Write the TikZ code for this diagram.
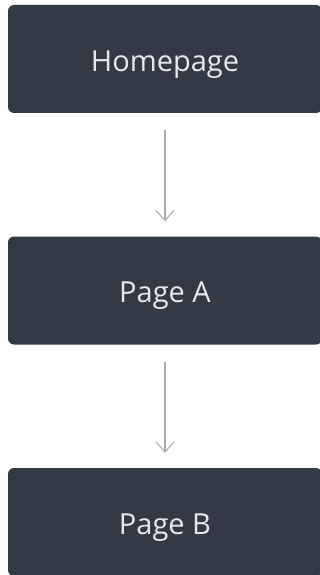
\documentclass[tikz,border=0pt]{standalone}
\usepackage{fontspec}
\setmainfont{Open Sans}
\usetikzlibrary{arrows.meta}
\definecolor{boxfill}{HTML}{343946}
\definecolor{boxtext}{HTML}{E8E8EA}
\definecolor{arrowgray}{HTML}{ABABAB}
\begin{document}
\begin{tikzpicture}[x=1pt,y=1pt,
  pagebox/.style={rectangle, rounded corners=6pt, fill=boxfill, draw=none,
    minimum width=314pt, minimum height=108pt, inner sep=0pt,
    text height=24.5pt, text depth=0pt,
    text=boxtext, font=\fontsize{29}{34}\selectfont},
  flow/.style={draw=arrowgray, line width=1.1pt,
    -{Straight Barb[length=10pt,width=18pt,line width=1.1pt]},
    shorten <=17pt, shorten >=15pt}]
\useasboundingbox (0,0) rectangle (320,-575);
\node[pagebox] (home) at (165,-59) {Homepage};
\node[pagebox] (pa) at (165,-290.5) {Page A};
\node[pagebox] (pb) at (165,-522) {Page B};
\draw[flow] (home) -- (pa);
\draw[flow] (pa) -- (pb);
\end{tikzpicture}
\end{document}
